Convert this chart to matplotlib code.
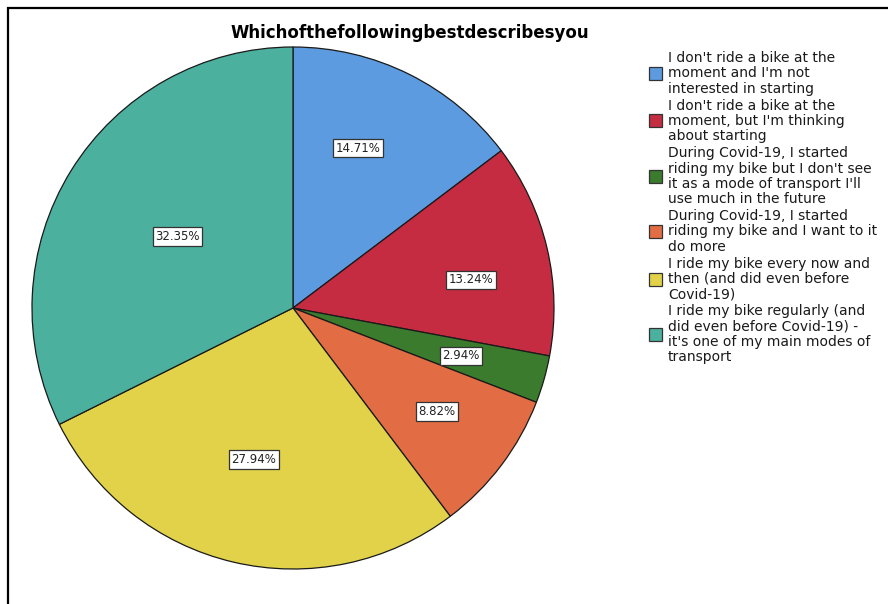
import matplotlib
matplotlib.use("Agg")
import matplotlib.pyplot as plt
from matplotlib.patches import Rectangle
import numpy as np

# Response counts (n = 68) and category labels, clockwise from 12 o'clock
categories = [
    "I don't ride a bike at the\nmoment and I'm not\ninterested in starting",
    "I don't ride a bike at the\nmoment, but I'm thinking\nabout starting",
    "During Covid-19, I started\nriding my bike but I don't see\nit as a mode of transport I'll\nuse much in the future",
    "During Covid-19, I started\nriding my bike and I want to it\ndo more",
    "I ride my bike every now and\nthen (and did even before\nCovid-19)",
    "I ride my bike regularly (and\ndid even before Covid-19) -\nit's one of my main modes of\ntransport",
]
counts = [10, 9, 2, 6, 19, 22]
colors = ["#5c9be0", "#c52b41", "#3b7b2e", "#e26c43", "#e1d249", "#4bb09e"]
# percentage box placement: fraction of radius and angular nudge (deg)
label_r = [0.66, 0.69, 0.67, 0.68, 0.60, 0.52]
label_nudge = [4.4, -4.2, 0.0, 1.4, -1.3, 0.0]

W, H = 888, 604
fig = plt.figure(figsize=(W / 100, H / 100), dpi=100)

# outer frame (runs off the right and bottom edges)
fig.patches.append(Rectangle((8 / W, -0.2), 1.2, (H - 8) / H + 0.2,
                             transform=fig.transFigure, fill=False,
                             ec="black", lw=1.6))

cx, cy, R = 293, 308, 261
ax = fig.add_axes([(cx - R) / W, (H - cy - R) / H, 2 * R / W, 2 * R / H])
wedges, _ = ax.pie(counts, colors=colors, startangle=90, counterclock=False,
                   radius=1.0,
                   wedgeprops=dict(edgecolor="#1a1a1a", linewidth=0.9))
ax.set_xlim(-1, 1)
ax.set_ylim(-1, 1)
ax.set_aspect("equal")
ax.axis("off")

total = sum(counts)
for w, c, r, nd in zip(wedges, counts, label_r, label_nudge):
    mid = np.deg2rad((w.theta1 + w.theta2) / 2 + nd)
    ax.text(r * np.cos(mid), r * np.sin(mid), f"{100 * c / total:.2f}%",
            ha="center", va="center", fontsize=8.5, color="#222222",
            bbox=dict(boxstyle="square,pad=0.22", fc="white",
                      ec="#333333", lw=0.9))

fig.text(410 / W, 1 - 33 / H, "Whichofthefollowingbestdescribesyou",
         ha="center", va="center", fontsize=12, fontweight="bold")

# legend: one swatch per category, centred on its text block
pitch, gap = 15.3, 17.0
y = 58.0
for lab, col in zip(categories, colors):
    lines = lab.split("\n")
    for i, ln in enumerate(lines):
        fig.text(668 / W, 1 - (y + i * pitch) / H, ln, ha="left",
                 va="center", fontsize=10, color="#1a1a1a")
    mid_y = y + (len(lines) - 1) * pitch / 2
    fig.patches.append(Rectangle((649 / W, 1 - (mid_y + 6.5) / H), 13 / W, 13 / H,
                                 transform=fig.transFigure, fc=col,
                                 ec="#333333", lw=0.9))
    y += (len(lines) - 1) * pitch + gap

fig.savefig("out.png", dpi=100)
